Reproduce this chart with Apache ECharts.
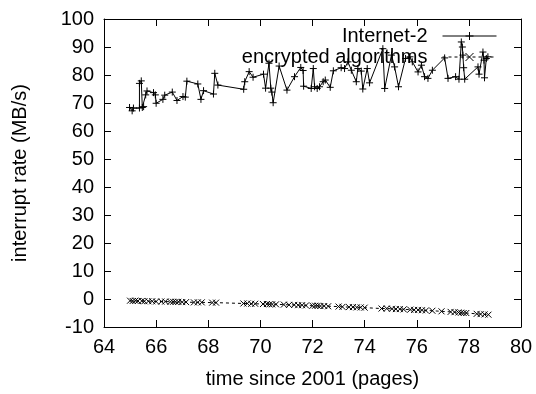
<!DOCTYPE html>
<html>
<head>
<meta charset="utf-8">
<script src="https://cdn.jsdelivr.net/npm/echarts@6/dist/echarts.min.js"></script>
<style>
html, body { margin: 0; padding: 0; background: #fff; }
#chart { width: 536px; height: 394px; }
</style>
</head>
<body>
<div id="chart"></div>
<script>
var netX = [64.98, 65.08, 65.13, 65.36, 65.36, 65.43, 65.47, 65.52, 65.6, 65.65, 65.9, 65.97, 66.0, 66.26, 66.33, 66.62, 66.8, 67.03, 67.12, 67.18, 67.6, 67.72, 67.82, 68.2, 68.25, 68.37, 69.36, 69.4, 69.57, 69.72, 70.12, 70.2, 70.33, 70.4, 70.44, 70.49, 70.72, 71.02, 71.31, 71.55, 71.64, 71.66, 71.95, 72.03, 72.08, 72.18, 72.27, 72.41, 72.49, 72.68, 72.8, 73.1, 73.23, 73.36, 73.49, 73.68, 73.74, 73.87, 73.93, 74.1, 74.19, 74.7, 74.77, 75.03, 75.15, 75.3, 75.57, 75.74, 75.83, 76.05, 76.18, 76.3, 76.43, 76.6, 77.07, 77.2, 77.49, 77.62, 77.71, 77.75, 77.77, 77.8, 77.84, 78.35, 78.39, 78.54, 78.58, 78.6, 78.67, 78.73];
var netY = [68.4, 67.2, 68.2, 68.2, 77.0, 77.9, 68.4, 68.7, 72.9, 74.3, 73.7, 72.9, 69.9, 71.3, 72.8, 73.9, 70.9, 72.3, 72.1, 77.8, 76.8, 71.3, 74.4, 73.2, 80.6, 76.4, 74.9, 77.6, 81.2, 79.2, 80.3, 75.3, 84.2, 75.3, 73.9, 70.1, 83.2, 74.6, 79.4, 82.7, 81.6, 76.0, 75.2, 82.3, 75.8, 75.2, 75.8, 77.6, 78.2, 75.6, 81.5, 82.6, 82.3, 84.7, 81.7, 77.6, 82.3, 81.4, 75.0, 82.3, 77.2, 89.4, 75.2, 87.1, 82.9, 75.8, 85.9, 86.5, 84.7, 81.1, 83.5, 79.4, 78.8, 81.7, 86.1, 78.8, 79.4, 78.5, 91.8, 90.0, 87.1, 82.6, 78.5, 82.9, 80.3, 88.2, 85.3, 79.0, 85.9, 86.5];

var encX = [65.0, 65.1, 65.2, 65.3, 65.45, 65.55, 65.7, 65.85, 66.0, 66.2, 66.35, 66.55, 66.65, 66.75, 66.85, 67.0, 67.15, 67.45, 67.6, 67.75, 68.15, 68.3, 69.35, 69.5, 69.65, 69.8, 70.1, 70.25, 70.35, 70.45, 70.6, 70.9, 71.1, 71.3, 71.45, 71.6, 71.75, 72.0, 72.1, 72.2, 72.3, 72.45, 72.6, 73.0, 73.15, 73.4, 73.55, 73.7, 73.85, 74.0, 74.65, 74.85, 75.05, 75.2, 75.35, 75.5, 75.75, 75.9, 76.05, 76.2, 76.35, 76.6, 76.95, 77.3, 77.45, 77.6, 77.7, 77.8, 77.9, 78.3, 78.45, 78.6, 78.75];
var encY = [-0.6, -0.7, -0.6, -0.7, -0.7, -0.8, -0.8, -0.8, -0.9, -0.9, -0.9, -1.0, -1.0, -1.0, -1.0, -1.1, -1.1, -1.2, -1.2, -1.2, -1.3, -1.3, -1.6, -1.6, -1.7, -1.7, -1.8, -1.8, -1.9, -1.9, -1.9, -2.0, -2.1, -2.1, -2.2, -2.2, -2.3, -2.4, -2.4, -2.4, -2.5, -2.5, -2.6, -2.7, -2.8, -2.9, -2.9, -3.0, -3.0, -3.1, -3.4, -3.4, -3.5, -3.6, -3.6, -3.7, -3.8, -3.9, -3.9, -4.0, -4.1, -4.2, -4.4, -4.6, -4.7, -4.8, -4.9, -5.0, -5.0, -5.3, -5.4, -5.5, -5.6];

var seriesNames = ['Internet-2', 'encrypted algorithms'];

function pairs(xs, ys) {
	var out = [];
	for (var i = 0; i < xs.length; i++) {
		out.push([xs[i], ys[i]]);
	}
	return out;
}

var font = 'Liberation Sans, Arial, Helvetica, sans-serif';
var plusPath = 'path://M5,0L5,10M0,5L10,5';
var crossPath = 'path://M0,0L10,10M10,0L0,10';

// frame axes: bottom/left carry labels, top/right only mirror the ticks
function xAx(pos, labels) {
	return {
		type: 'value', position: pos, min: 64, max: 80, interval: 2,
		name: labels ? 'time since 2001 (pages)' : '',
		nameLocation: 'middle', nameGap: 42,
		nameTextStyle: { color: '#000', fontSize: 20, fontFamily: font },
		axisLine: { show: true, onZero: false, lineStyle: { color: '#000', width: 1 } },
		axisTick: { show: true, inside: true, length: 7, lineStyle: { color: '#000' } },
		axisLabel: { show: labels, color: '#000', fontSize: 20, fontFamily: font, margin: 10 },
		splitLine: { show: false }
	};
}
function yAx(pos, labels) {
	return {
		type: 'value', position: pos, min: -10, max: 100, interval: 10,
		name: labels ? 'interrupt rate (MB/s)' : '',
		nameLocation: 'middle', nameGap: 74, nameRotate: 90,
		nameTextStyle: { color: '#000', fontSize: 20, fontFamily: font },
		axisLine: { show: true, onZero: false, lineStyle: { color: '#000', width: 1 } },
		axisTick: { show: true, inside: true, length: 7, lineStyle: { color: '#000' } },
		axisLabel: { show: labels, color: '#000', fontSize: 20, fontFamily: font, margin: 10 },
		splitLine: { show: false }
	};
}

var chart = echarts.init(document.getElementById('chart'));

var option = {
	animation: false,
	backgroundColor: '#fff',
	grid: { left: 104, right: 15, top: 19, bottom: 64 },
	legend: {
		orient: 'vertical',
		right: 34,
		top: 21,
		align: 'right',
		itemWidth: 54,
		itemHeight: 10,
		itemGap: 1,
		lineStyle: { width: 1 },
		itemStyle: { borderWidth: 1 },
		textStyle: { color: '#000', fontSize: 20, fontFamily: font, lineHeight: 20, padding: [0, 10, 0, 0] },
		data: seriesNames
	},
	xAxis: [xAx('bottom', true), xAx('top', false)],
	yAxis: [yAx('left', true), yAx('right', false)],
	series: [{
		name: seriesNames[0],
		type: 'line',
		data: pairs(netX, netY),
		symbol: plusPath,
		symbolSize: 7,
		lineStyle: { color: '#000', width: 1 },
		itemStyle: { color: '#000', borderColor: '#000', borderWidth: 1 }
	}, {
		name: seriesNames[1],
		type: 'line',
		data: pairs(encX, encY),
		symbol: crossPath,
		symbolSize: 6,
		lineStyle: { color: '#000', width: 1, type: [3, 3] },
		itemStyle: { color: '#000', borderColor: '#000', borderWidth: 1 }
	}]
};

chart.setOption(option);
</script>
</body>
</html>
